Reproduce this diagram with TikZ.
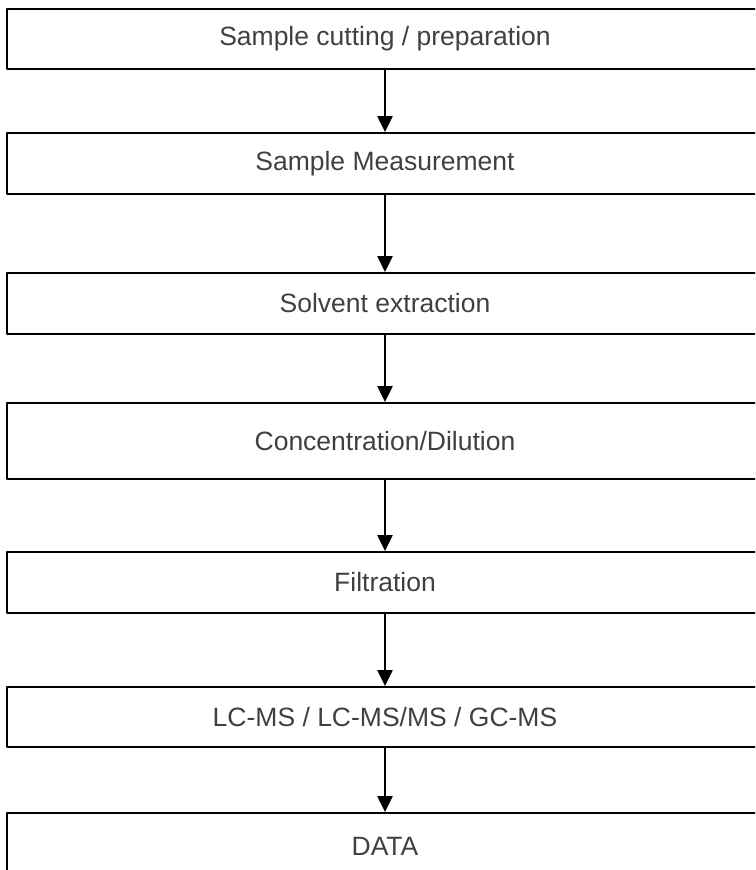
\documentclass[tikz,border=0pt]{standalone}
\usepackage{fontspec}
\setmainfont{Liberation Sans}
\usetikzlibrary{arrows.meta}
\tikzset{
  stepbox/.style={draw, line width=1.8pt, minimum width=756pt, inner sep=0pt,
    text=black!75, font=\fontsize{26.5}{30}\selectfont},
  flow/.style={line width=2.2pt, -{Triangle[width=15pt,length=16pt]}}
}
\begin{document}
\begin{tikzpicture}[x=1pt, y=-1pt, line join=round]
	%%%%%%%%%%%%%%%%%%%%%%%%%%%%%%%%%
	\useasboundingbox (0,0) rectangle (755,870);
	\clip (0,0) rectangle (755,870);
	%%%%%%%%%%%%%%%%%%%%%%%%%%%%%%%%%
	\node[stepbox, minimum height=60pt] (cut)    at (385,39)  {Sample cutting / preparation};
	\node[stepbox, minimum height=61pt] (meas)   at (385,163.5) {Sample Measurement};
	\node[stepbox, minimum height=61pt] (solv)   at (385,303.5) {Solvent extraction};
	\node[stepbox, minimum height=76pt] (conc)   at (385,441) {Concentration/Dilution};
	\node[stepbox, minimum height=61pt] (filt)   at (385,582.5) {Filtration};
	\node[stepbox, minimum height=60pt] (ms)     at (385,717) {LC-MS / LC-MS/MS / GC-MS};
	\node[stepbox, minimum height=66pt] (data)   at (385,846) {DATA};
	%%%%%%%%%%%%%%%%%%%%%%%%%%%%%%%%%
	\foreach \a/\b in {cut/meas, meas/solv, solv/conc, conc/filt, filt/ms, ms/data}
		\draw[flow] (\a.south) -- (\b.north);
	%%%%%%%%%%%%%%%%%%%%%%%%%%%%%%%%%
\end{tikzpicture}
\end{document}
